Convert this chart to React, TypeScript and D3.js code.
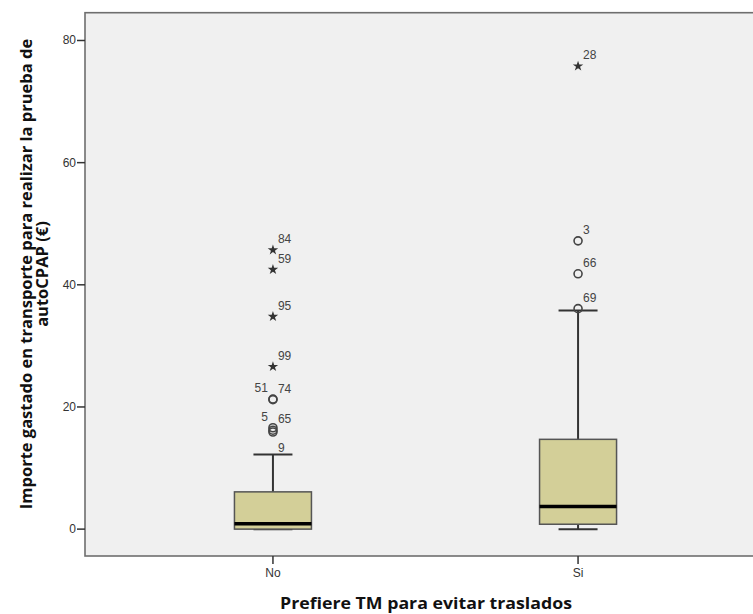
import React, { useEffect, useRef } from 'react';
import * as d3 from 'd3';

// categories on the x axis
const categories = ['No', 'Si'];

// box statistics per category (€)
const whiskerLow = [0, 0];
const q1 = [0, 0.8];
const medians = [0.9, 3.7];
const q3 = [6.1, 14.7];
const whiskerHigh = [12.2, 35.8];

// outliers: category, value, case id, type (circle / star), label side
const outlierCats = ['No', 'No', 'No', 'No', 'No', 'No', 'No', 'No', 'No', 'Si', 'Si', 'Si', 'Si'];
const outlierValues = [45.7, 42.5, 34.8, 26.6, 21.3, 21.2, 16.6, 16.2, 15.9, 75.8, 47.2, 41.8, 36.1];
const outlierIds = ['84', '59', '95', '99', '51', '74', '5', '65', '9', '28', '3', '66', '69'];
const outlierKinds = ['star', 'star', 'star', 'star', 'circle', 'circle', 'circle', 'circle', 'circle', 'star', 'circle', 'circle', 'circle'];
const outlierSides = ['right', 'right', 'right', 'right', 'left', 'right', 'left', 'right', 'below', 'right', 'right', 'right', 'right'];

const yTicks = [0, 20, 40, 60, 80];

const yTitle = ['Importe gastado en transporte para realizar la prueba de', 'autoCPAP (€)'];
const xTitle = 'Prefiere TM para evitar traslados';

export default function App() {
    const chartRef = useRef<SVGSVGElement | null>(null);

    useEffect(() => {
        document.body.style.margin = '0';
        if (!chartRef.current) return;
        const svg = d3.select(chartRef.current);
        svg.selectAll('*').remove();

        const W = 753, H = 614;
        const plot = { left: 85, top: 12.7, right: 766, bottom: 556 };
        const font = 'Liberation Sans, Arial, sans-serif';
        const titleFont = 'Open Sans, sans-serif';

        const x = d3.scalePoint<string>()
            .domain(categories)
            .range([plot.left, plot.right])
            .padding(0.616);
        const y = d3.scaleLinear().domain([-4.4, 84.55]).range([plot.bottom, plot.top]);

        svg.attr('width', W).attr('height', H);
        svg.append('rect').attr('width', W).attr('height', H).attr('fill', '#fff');

        // plot background + frame
        svg.append('rect')
            .attr('x', plot.left).attr('y', plot.top)
            .attr('width', plot.right - plot.left).attr('height', plot.bottom - plot.top)
            .attr('fill', '#f0f0f0')
            .attr('stroke', '#6e6e6e')
            .attr('stroke-width', 1.6);

        // y axis ticks
        const yAxis = svg.append('g');
        yTicks.forEach(t => {
            yAxis.append('line')
                .attr('x1', plot.left - 8).attr('x2', plot.left)
                .attr('y1', y(t)).attr('y2', y(t))
                .attr('stroke', '#333').attr('stroke-width', 1.5);
            yAxis.append('text')
                .attr('x', plot.left - 9).attr('y', y(t) + 4)
                .attr('text-anchor', 'end')
                .style('font-family', font).style('font-size', '12px').style('fill', '#333')
                .text(t);
        });

        // x axis ticks
        categories.forEach(c => {
            svg.append('line')
                .attr('x1', x(c)!).attr('x2', x(c)!)
                .attr('y1', plot.bottom).attr('y2', plot.bottom + 8)
                .attr('stroke', '#333').attr('stroke-width', 1.5);
            svg.append('text')
                .attr('x', x(c)!).attr('y', plot.bottom + 21)
                .attr('text-anchor', 'middle')
                .style('font-family', font).style('font-size', '12px').style('fill', '#333')
                .text(c);
        });

        // titles
        svg.append('text')
            .attr('x', 280).attr('y', 609)
            .attr('textLength', 292)
            .attr('lengthAdjust', 'spacingAndGlyphs')
            .style('font-family', titleFont).style('font-size', '16.5px').style('font-weight', 'bold').style('fill', '#111')
            .text(xTitle);

        yTitle.forEach((line, i) => {
            svg.append('text')
                .attr('transform', `translate(${32 + i * 16}, 274) rotate(-90)`)
                .attr('text-anchor', 'middle')
                .style('font-family', titleFont).style('font-size', '16.5px').style('font-weight', 'bold').style('fill', '#111')
                .text(line);
        });

        // boxes
        const boxW = 77, capW = 39;
        categories.forEach((c, i) => {
            const cx = x(c)!;
            const g = svg.append('g');
            // whiskers
            g.append('line')
                .attr('x1', cx).attr('x2', cx)
                .attr('y1', y(q3[i])).attr('y2', y(whiskerHigh[i]))
                .attr('stroke', '#333').attr('stroke-width', 2);
            g.append('line')
                .attr('x1', cx).attr('x2', cx)
                .attr('y1', y(q1[i])).attr('y2', y(whiskerLow[i]))
                .attr('stroke', '#333').attr('stroke-width', 2);
            [whiskerHigh[i], whiskerLow[i]].forEach(v => {
                g.append('line')
                    .attr('x1', cx - capW / 2).attr('x2', cx + capW / 2)
                    .attr('y1', y(v)).attr('y2', y(v))
                    .attr('stroke', '#333').attr('stroke-width', 2);
            });
            g.append('rect')
                .attr('x', cx - boxW / 2).attr('y', y(q3[i]))
                .attr('width', boxW).attr('height', y(q1[i]) - y(q3[i]))
                .attr('fill', '#d3cf98')
                .attr('stroke', '#555').attr('stroke-width', 1.5);
            g.append('line')
                .attr('x1', cx - boxW / 2).attr('x2', cx + boxW / 2)
                .attr('y1', y(medians[i])).attr('y2', y(medians[i]))
                .attr('stroke', '#000').attr('stroke-width', 3.5);
        });

        // outliers
        const star = d3.symbol().type(d3.symbolStar).size(34);
        outlierValues.forEach((v, i) => {
            const cx = x(outlierCats[i])!;
            const cy = y(v);
            if (outlierKinds[i] === 'star') {
                svg.append('path')
                    .attr('transform', `translate(${cx},${cy})`)
                    .attr('d', star()!)
                    .attr('fill', '#333');
            } else {
                svg.append('circle')
                    .attr('cx', cx).attr('cy', cy).attr('r', 4)
                    .attr('fill', 'none')
                    .attr('stroke', '#444').attr('stroke-width', 1.6);
            }
            const side = outlierSides[i];
            svg.append('text')
                .attr('x', side === 'left' ? cx - 5 : cx + 5)
                .attr('y', side === 'below' ? cy + 20 : cy - 7)
                .attr('text-anchor', side === 'left' ? 'end' : 'start')
                .style('font-family', font).style('font-size', '12px').style('fill', '#444')
                .text(outlierIds[i]);
        });
    }, []);

    return <svg ref={chartRef} style={{ display: 'block' }} />;
}
